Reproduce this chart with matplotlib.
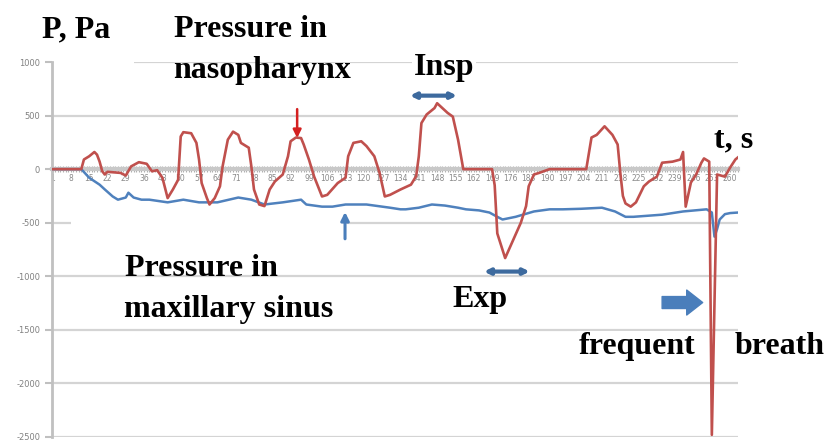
import matplotlib
matplotlib.use('Agg')
import matplotlib.pyplot as plt
from matplotlib.patches import Rectangle

# pressure in nasopharynx (red), sample number -> Pa
naso_t = [1, 12, 13, 15, 17, 18, 19, 20, 21, 22, 27, 29, 31, 34, 37, 39, 41,
          43, 45, 47, 49, 50, 51, 54, 56, 57, 58, 60, 61, 63, 65, 66, 68, 70,
          72, 73, 76, 77, 78, 80, 82, 84, 86, 89, 91, 92, 94, 96, 97, 99, 101,
          104, 106, 110, 113, 114, 116, 119, 121, 124, 126, 128, 130, 134,
          138, 140, 141, 142, 144, 147, 148, 150, 152, 154, 156, 158, 169,
          170, 171, 174, 176, 180, 182, 183, 185, 187, 191, 205, 207, 209,
          212, 215, 217, 218, 219, 220, 222, 224, 227, 229, 232, 234, 238,
          241, 242, 243, 245, 247, 249, 250, 252, 253, 255, 258, 260, 262, 263]
naso_p = [0, 0, 90, 120, 160, 135, 70, -20, -50, -25, -35, -60, 25, 65, 50,
          -20, -10, -80, -270, -190, -100, 305, 345, 335, 245, 90, -130, -270,
          -330, -270, -160, 25, 275, 350, 320, 245, 200, 25, -190, -330, -345,
          -190, -115, -50, 120, 260, 295, 290, 230, 90, -70, -255, -240, -130,
          -80, 120, 245, 260, 215, 120, -35, -255, -240, -190, -145, -65, 120,
          430, 510, 570, 615, 570, 525, 490, 275, 0, 0, -150, -600, -830,
          -720, -500, -345, -160, -50, -35, 0, 0, 295, 320, 400, 320, 230,
          -30, -250, -320, -350, -310, -160, -115, -70, 60, 70, 90, 160, -350,
          -125, -50, 60, 100, 70, -2480, -50, -70, 15, 90, 110]

# pressure in maxillary sinus (blue)
sinus_t = [1, 12, 15, 19, 21, 24, 26, 29, 30, 32, 35, 38, 45, 51, 57, 64, 72,
           77, 82, 89, 96, 98, 104, 108, 113, 117, 121, 130, 134, 136, 141,
           146, 151, 156, 159, 164, 168, 171, 173, 178, 185, 191, 196, 203,
           211, 216, 220, 223, 234, 242, 251, 253, 254, 255, 256, 258, 260, 263]
sinus_p = [0, 0, -80, -145, -190, -255, -285, -265, -220, -265, -285, -285,
           -310, -285, -310, -310, -265, -285, -330, -310, -285, -330, -350,
           -350, -330, -330, -330, -360, -375, -375, -360, -330, -340, -360,
           -375, -385, -405, -445, -470, -445, -395, -375, -375, -370, -360,
           -395, -445, -445, -425, -395, -375, -405, -630, -560, -470, -420,
           -410, -405]

n_points = 263
x_labels = list(range(1, 264, 7))
y_ticks = [1000, 500, 0, -500, -1000, -1500, -2000, -2500]

W, H = 832, 445


def px(x, y):
    return x / W, 1 - y / H


fig = plt.figure(figsize=(W / 100, H / 100), dpi=100)
ax = fig.add_axes([52 / W, 8 / H, 686 / W, 375 / H])

ax.plot(sinus_t, sinus_p, color='#4f81bd', lw=1.8, zorder=3)
ax.plot(naso_t, naso_p, color='#c0504d', lw=1.9, zorder=4)

ax.set_xlim(0.8, n_points)
ax.set_ylim(-2500, 1000)
ax.set_yticks(y_ticks)
ax.set_yticklabels([str(v) for v in y_ticks])
ax.set_xticks(x_labels)
ax.set_xticklabels([str(v) for v in x_labels], rotation=270)
ax.set_xticks(range(1, n_points + 1), minor=True)

ax.grid(axis='y', color='#d4d4d4', lw=1.6)
ax.set_axisbelow(True)
for s in ['top', 'right']:
    ax.spines[s].set_visible(False)
ax.spines['left'].set_color('#c0c0c0')
ax.spines['left'].set_linewidth(2)
ax.spines['bottom'].set_position(('data', 0))
ax.spines['bottom'].set_color('#c8c8c8')
ax.spines['bottom'].set_linewidth(3)

ax.tick_params(axis='y', colors='#c0c0c0', labelcolor='#808080',
               labelsize=6, length=5, width=1.5)
ax.tick_params(axis='x', which='both', colors='#b0b0b0', labelcolor='#8a8a8a',
               labelsize=5.5, direction='inout', length=5, width=0.8, pad=1)

# gaps in the gridlines left by the text boxes
ax.add_patch(Rectangle((7.9, -540), 105.7, 80, color='white', lw=0, zorder=1))
ax.add_patch(Rectangle((1.5, 980), 30.5, 40, color='white', lw=0, zorder=1,
                       clip_on=False))

font = dict(family='Liberation Serif', weight='bold', size=23, color='black')
box = dict(facecolor='white', edgecolor='none', pad=1)

fig.text(*px(76, 37), 'P, Pa', ha='center', va='baseline', **font)
fig.text(*px(250, 37), 'Pressure in', ha='center', va='baseline', **font)
fig.text(*px(262, 78), 'nasopharynx', ha='center', va='baseline', **font)
fig.text(*px(444, 75), 'Insp', ha='center', va='baseline', bbox=box, **font)
fig.text(*px(734, 147), 't, s', ha='center', va='baseline', **font)
fig.text(*px(201, 276), 'Pressure in', ha='center', va='baseline', **font)
fig.text(*px(229, 317), 'maxillary sinus', ha='center', va='baseline', **font)
fig.text(*px(480, 307), 'Exp', ha='center', va='baseline', **font)
fig.text(*px(637, 354), 'frequent', ha='center', va='baseline', bbox=box,
         **font)
fig.text(*px(780, 354), 'breath', ha='center', va='baseline', bbox=box,
         **font)

# arrows
ax.annotate('', xy=(94.5, 290), xytext=(94.5, 560),
            arrowprops=dict(arrowstyle='-|>', color='#d42020', lw=1.8,
                            mutation_scale=12, shrinkA=0, shrinkB=0),
            zorder=6)
ax.annotate('', xy=(112.8, -400), xytext=(112.8, -650),
            arrowprops=dict(arrowstyle='-|>', color='#4a7ebb', lw=2.2,
                            mutation_scale=12, shrinkA=0, shrinkB=0),
            zorder=6)
ax.annotate('', xy=(155.6, 686), xytext=(137.6, 686),
            arrowprops=dict(arrowstyle='<|-|>', color='#3d6a9e', lw=3,
                            mutation_scale=8, shrinkA=0, shrinkB=0),
            zorder=6)
ax.annotate('', xy=(183.4, -956), xytext=(165.9, -956),
            arrowprops=dict(arrowstyle='<|-|>', color='#3d6a9e', lw=3,
                            mutation_scale=8, shrinkA=0, shrinkB=0),
            zorder=6)
ax.annotate('', xy=(249.5, -1245), xytext=(234, -1245),
            arrowprops=dict(arrowstyle='simple,head_length=1.15,'
                                       'head_width=1.8,tail_width=0.86',
                            color='#4a7ebb', mutation_scale=10,
                            shrinkA=0, shrinkB=0),
            zorder=6)

fig.savefig('out.png', dpi=100)
